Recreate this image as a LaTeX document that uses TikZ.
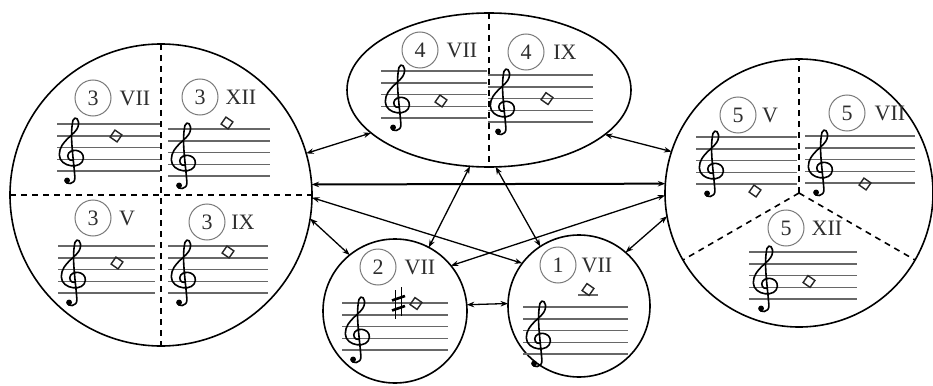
\documentclass[tikz,border=0pt]{standalone}
\usepackage{fontspec}
\setmainfont{Liberation Serif}
\usetikzlibrary{shapes.geometric,arrows.meta}
\definecolor{txt}{HTML}{2E2E2E}
\definecolor{stl}{HTML}{676767}
\definecolor{lbl}{HTML}{7A7A7A}
\tikzset{
  region/.style={draw=black, line width=1.6pt, inner sep=0pt, outer sep=0pt},
  rcircle/.style={region, circle},
  divider/.style={draw=black, line width=1.6pt, dash pattern=on 6pt off 5pt},
  link/.style={draw=black, line width=1.3pt, {Stealth[length=7.5pt,width=5.5pt]}-{Stealth[length=7.5pt,width=5.5pt]}},
  thicklink/.style={link, line width=2pt},
  staffline/.style={draw=stl, line width=1.6pt},
  numcirc/.style={circle, draw=lbl, line width=1pt, minimum size=36pt, inner sep=0pt, text=txt, font=\fontsize{22}{22}\selectfont},
  roman/.style={text=txt, font=\fontsize{22}{22}\selectfont, inner sep=0pt},
  diamline/.style={draw=black!85, line width=1.4pt},
  clefline/.style={draw=black, line width=1.6pt, line cap=round, line join=round},
  gclef/.pic={
    \begin{scope}[x=13pt,y=11.8pt]
      \draw[clefline] (-0.45,-0.8) .. controls (-0.45,-1.15) and (0.35,-1.2) .. (0.3,-0.5)
        .. controls (0.15,1.5) and (-0.1,3.0) .. (0.15,4.3)
        .. controls (0.3,4.75) and (0.7,4.4) .. (0.55,3.8)
        .. controls (0.4,3.1) and (-0.9,2.6) .. (-0.9,1.4)
        .. controls (-0.9,0.3) and (0.9,0.1) .. (0.95,1.1)
        .. controls (1.0,1.9) and (-0.2,2.0) .. (-0.25,1.3)
        .. controls (-0.25,0.9) and (0.1,0.85) .. (0.2,1.0);
      \fill (-0.3,-0.78) circle[radius=2.9pt];
    \end{scope}
  },
  dmd/.pic={\draw[diamline] (-100:6) -- (-10:6) -- (80:6) -- (170:6) -- cycle;},
}
\newcommand{\stave}[4]{%
  \foreach \k in {0,...,4}{\draw[staffline] (#1,#3+\k*11.8) -- (#2,#3+\k*11.8);}
  \pic at (#4,#3+47.2) {gclef};
}
\newcommand{\lab}[6]{%
  \node[numcirc] (n#1) at (#2,#3) {#4};
  \node[roman] (r#1) at (#5,#3) {#6};
}
\begin{document}
\begin{tikzpicture}[x=1pt,y=-1pt]
\useasboundingbox[fill=white] (0,0) rectangle (933,385);

% regions
\node[rcircle, minimum size=302pt] (c3) at (161,195) {};
\node[region, ellipse, minimum width=284pt, minimum height=154pt] (e4) at (489,90) {};
\node[rcircle, minimum size=268pt] (c5) at (799,193) {};
\node[rcircle, minimum size=144pt] (c2) at (395,311) {};
\node[rcircle, minimum size=142pt] (c1) at (579,306) {};

% dividers
\draw[divider] (c3.west) -- (c3.east);
\draw[divider] (c3.north) -- (c3.south);
\draw[divider] (e4.north) -- (e4.south);
\draw[divider] (c5.center) -- (c5.north);
\draw[divider] (c5.center) -- (c5.210);
\draw[divider] (c5.center) -- (c5.330);

% staves
\stave{57}{160}{124}{71}
\stave{168}{270}{129}{183}
\stave{58}{155}{246}{73}
\stave{168}{268}{246}{183}
\stave{381}{487}{71}{397}
\stave{488}{593}{75}{502}
\stave{696}{797}{137}{711}
\stave{805}{915}{136}{820}
\stave{749}{857}{252}{765}
\stave{342}{448}{303}{357}
\stave{523}{628}{307}{538}
\draw[staffline] (578,295.2) -- (598,295.2);

% notes
\pic at (116,136) {dmd};
\pic at (227,123) {dmd};
\pic at (117,263) {dmd};
\pic at (228,252) {dmd};
\pic at (441,101) {dmd};
\pic at (547,98.6) {dmd};
\pic at (755,191) {dmd};
\pic at (865,184) {dmd};
\pic at (809,281.5) {dmd};
\pic at (416,303.5) {dmd};
\pic at (588,289.5) {dmd};

% sharp
\draw[line width=1pt] (395.5,290) -- (395.5,319);
\draw[line width=1pt] (401.5,287) -- (401.5,316);
\draw[line width=2.6pt] (392,300.5) -- (405,296);
\draw[line width=2.6pt] (392,310.5) -- (405,306);

% labels
\lab{3a}{93}{98}{3}{135}{VII}
\lab{3b}{200}{97}{3}{241}{XII}
\lab{3c}{93}{218}{3}{127}{V}
\lab{3d}{207}{222}{3}{243}{IX}
\lab{4a}{420}{50}{4}{462}{VII}
\lab{4b}{526}{52}{4}{565}{IX}
\lab{5a}{738}{115}{5}{770}{V}
\lab{5b}{847}{113}{5}{890}{VII}
\lab{5c}{786}{228}{5}{827}{XII}
\lab{2a}{378}{267}{2}{420}{VII}
\lab{1a}{558}{265}{1}{597}{VII}

% links
\draw[link] (c3.16.6) -- (e4.200.4);
\draw[thicklink] (c3.4.5) -- (c5.176.2);
\draw[link] (c3.359.3) -- (c1.143.9);
\draw[link] (c3.351.8) -- (c2.129.5);
\draw[link] (e4.256.8) -- (c2.62);
\draw[link] (e4.275.7) -- (c1.123.3);
\draw[link] (e4.339.6) -- (c5.162.4);
\draw[link] (c2.39.5) -- (c5.181.7);
\draw[link] (c1.49) -- (c5.190);
\draw[link] (c2.5.6) -- (c1.178.4);
\end{tikzpicture}
\end{document}
